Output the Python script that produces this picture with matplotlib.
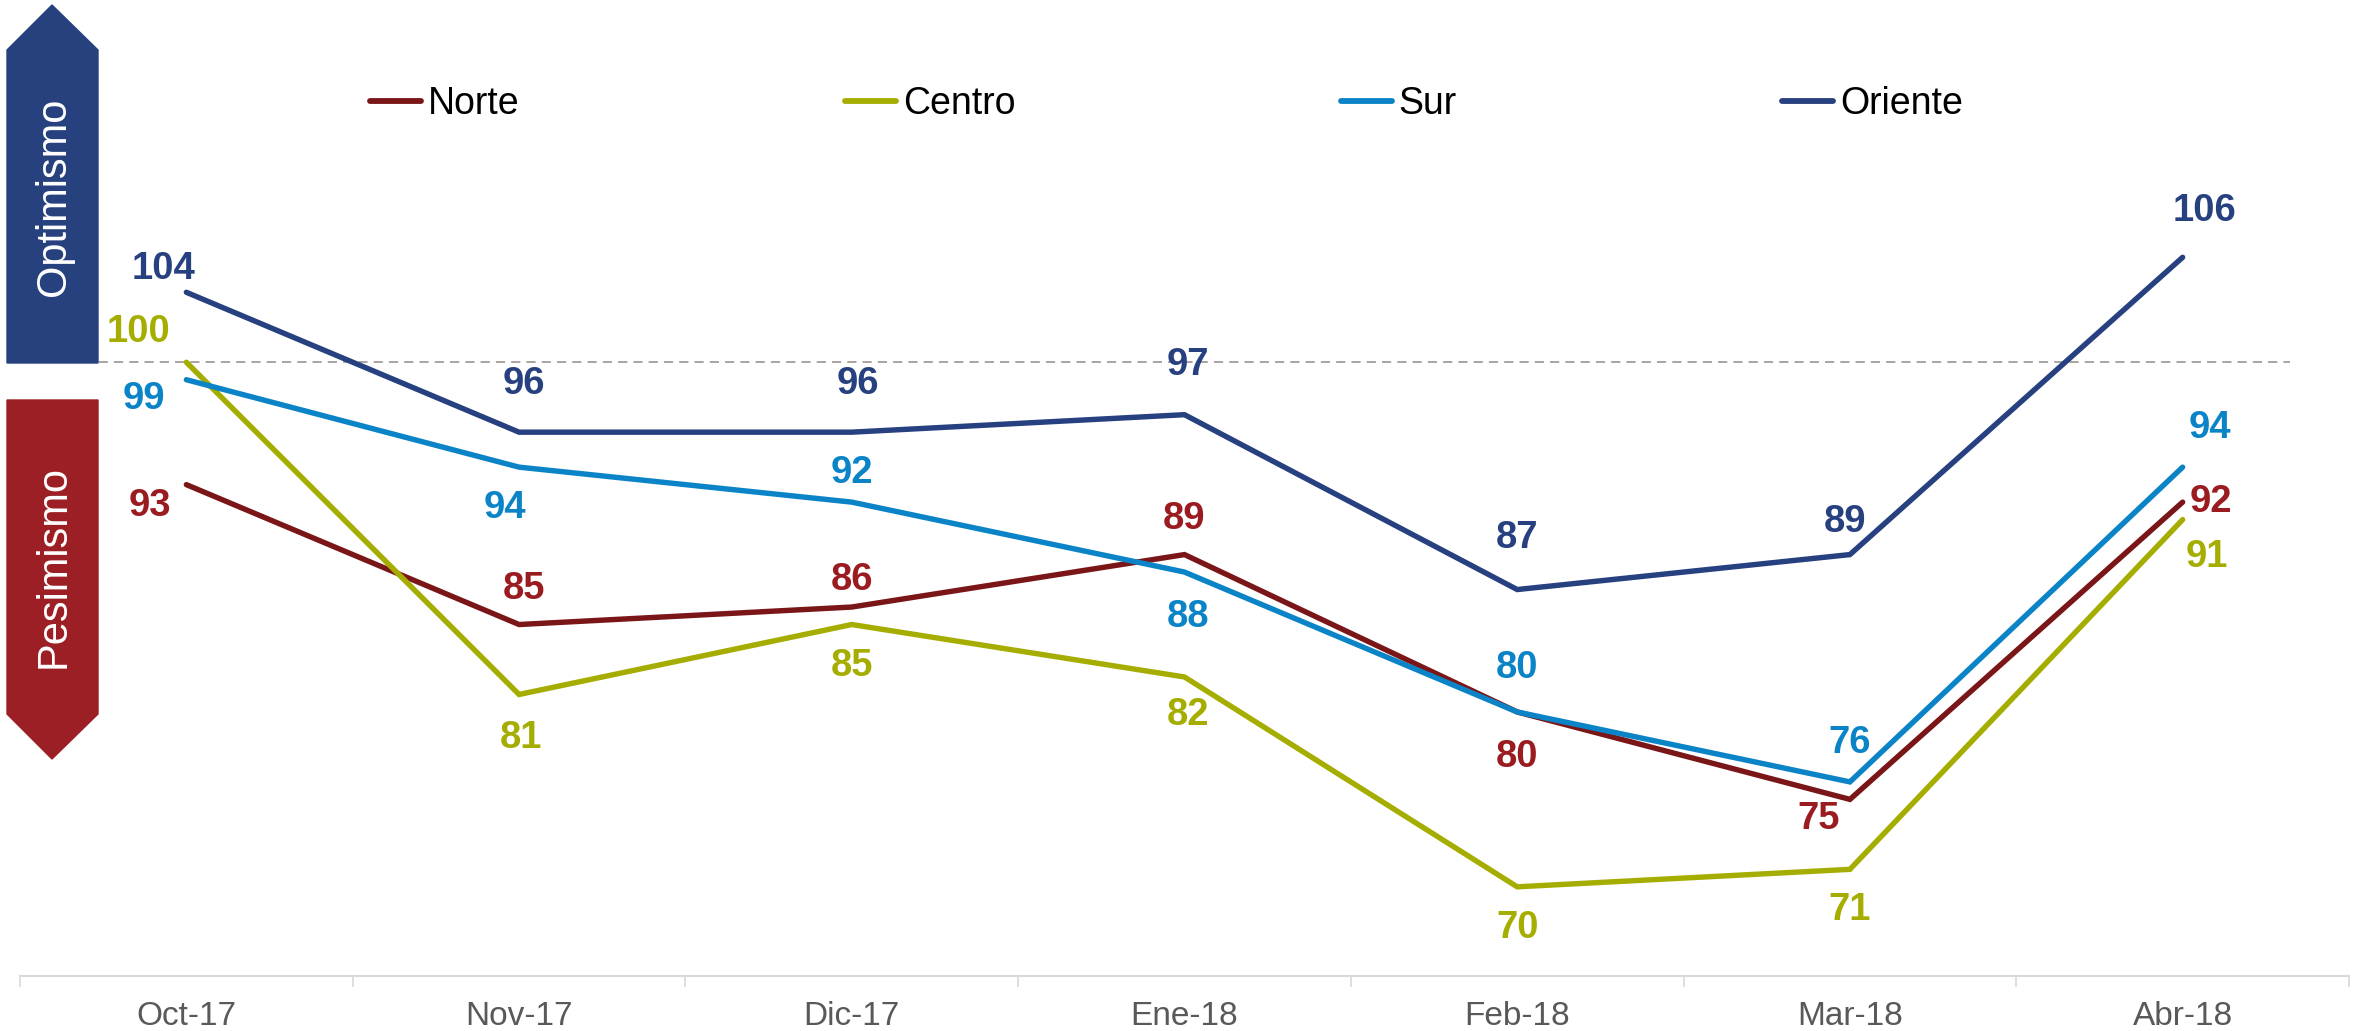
import matplotlib
matplotlib.use('Agg')
import matplotlib.pyplot as plt
from matplotlib.patches import Polygon

plt.rcParams['font.family'] = ['Liberation Sans', 'DejaVu Sans']

meses = ['Oct-17', 'Nov-17', 'Dic-17', 'Ene-18', 'Feb-18', 'Mar-18', 'Abr-18']
norte = [93, 85, 86, 89, 80, 75, 92]
centro = [100, 81, 85, 82, 70, 71, 91]
sur = [99, 94, 92, 88, 80, 76, 94]
oriente = [104, 96, 96, 97, 87, 89, 106]

# (name, values, line colour, label colour)
series = [
    ('Norte', norte, '#7A1518', '#9B1C20'),
    ('Centro', centro, '#A5AE00', '#A5AE00'),
    ('Sur', sur, '#0A84C6', '#0A84C6'),
    ('Oriente', oriente, '#27407F', '#27407F'),
]

# label offsets in pixels (dx, dy) per series per month
offsets = {
    'Norte':   [(-36, -21), (5, 36), (0, 27), (0, 36), (0, -45), (-31, -20), (28, 0)],
    'Centro':  [(-48, 30), (2, -44), (0, -41), (3, -38), (0, -41), (0, -41), (24, -37)],
    'Sur':     [(-42, -19), (-14, -41), (0, 29), (3, -45), (0, 44), (0, 39), (27, 39)],
    'Oriente': [(-23, 23), (5, 48), (6, 48), (3, 50), (0, 52), (-5, 33), (22, 46)],
}

W, H = 2361, 1031
fig = plt.figure(figsize=(W / 100, H / 100), dpi=100)
ax = fig.add_axes([20 / W, 1 - 976 / H, 2329 / W, 960 / H])

x = list(range(len(meses)))
for name, vals, lc, tc in series:
    ax.plot(x, vals, color=lc, lw=3.9, solid_capstyle='round',
            solid_joinstyle='miter', label=name, zorder=3)
    for i, v in enumerate(vals):
        dx, dy = offsets[name][i]
        ax.annotate(str(v), (i, v), xytext=(dx, dy), textcoords='offset pixels',
                    ha='center', va='center', fontsize=27.5, fontweight='bold',
                    color=tc, zorder=4)

# reference line at 100
ax.axhline(100, xmin=-13 / 2329, xmax=2270 / 2329, color='#948A85', lw=1.1,
           dashes=(6, 4), clip_on=False, zorder=2)

ax.set_xlim(-0.5, 6.5)
ax.set_ylim(64.9, 119.8)
ax.set_yticks([])
for s in ['top', 'right', 'left']:
    ax.spines[s].set_visible(False)
ax.spines['bottom'].set_color('#D9D9D9')
ax.spines['bottom'].set_linewidth(1.5)
ax.set_xticks(x)
ax.set_xticklabels(meses, fontsize=24, color='#595959')
ax.set_xticks([i - 0.5 for i in range(len(meses) + 1)], minor=True)
ax.tick_params(axis='x', which='major', length=0, pad=18)
ax.tick_params(axis='x', which='minor', length=8, width=1.2, color='#D9D9D9')

leg = ax.legend(loc='center left', bbox_to_anchor=(370 / W, 1 - 104 / H),
                bbox_transform=fig.transFigure, ncol=4, frameon=False,
                fontsize=27, handlelength=1.36, handletextpad=0.19,
                columnspacing=8.67, borderpad=0, borderaxespad=0)
for h in leg.get_lines():
    h.set_linewidth(4.2)

# Optimismo / Pesimismo arrows
def px(pts):
    return [(a / W, 1 - b / H) for a, b in pts]

opt = Polygon(px([(7, 363), (7, 50), (52, 5), (98, 50), (98, 363)]),
              closed=True, transform=fig.transFigure, color='#27417F', zorder=1)
pes = Polygon(px([(7, 400), (98, 400), (98, 714), (52, 759), (7, 714)]),
              closed=True, transform=fig.transFigure, color='#9B1F24', zorder=1)
fig.add_artist(opt)
fig.add_artist(pes)
fig.text(54 / W, 1 - 197 / H, 'Optimismo', rotation=90, ha='center', va='center',
         color='white', fontsize=30)
fig.text(54 / W, 1 - 567 / H, 'Pesimismo', rotation=90, ha='center', va='center',
         color='white', fontsize=30)

fig.savefig('out.png', dpi=100)
